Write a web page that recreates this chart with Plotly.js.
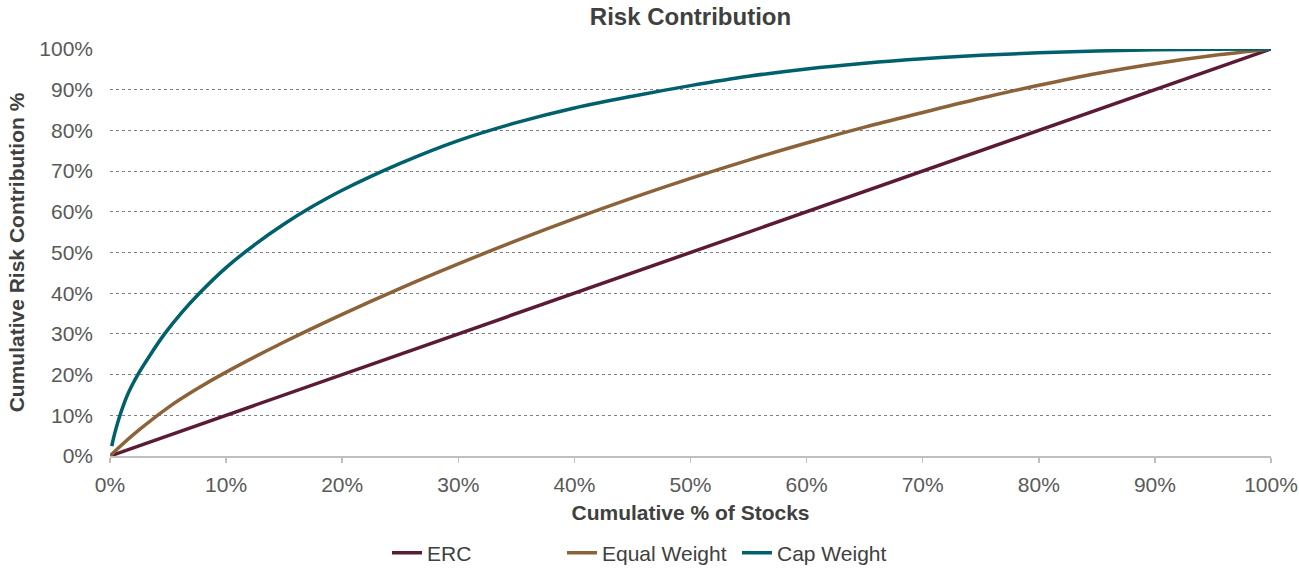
<!DOCTYPE html>
<html>
<head>
<meta charset="utf-8">
<script src="https://cdn.plot.ly/plotly-3.0.1.min.js"></script>
<style>html,body{margin:0;padding:0;background:#fff;}#chart{width:1299px;height:569px;}</style>
</head>
<body>
<div id="chart"></div>
<script>
// Cumulative % of stocks (x) and cumulative risk contribution % (y)
const ercX = [0, 10, 20, 30, 40, 50, 60, 70, 80, 90, 100];
const ercY = [0, 10, 20, 30, 40, 50, 60, 70, 80, 90, 100];

const eqX = [0, 1, 2.5, 5, 7.5, 10, 15, 20, 25, 30, 35, 40, 45, 50, 55, 60, 65, 70, 75, 80, 85, 90, 95, 100];
const eqY = [0, 2.7, 6.4, 11.9, 16.5, 20.6, 28, 34.8, 41.2, 47.2, 52.9, 58.3, 63.4, 68.2, 72.7, 76.9, 80.8, 84.4, 87.9, 91.1, 94, 96.4, 98.4, 100];

const capX = [0.15, 0.4, 0.86, 1.5, 2.4, 3.5, 4.7, 6.1, 7.7, 10, 12.5, 15, 17.5, 20, 25, 30, 35, 40, 45, 50, 55, 60, 65, 70, 75, 80, 85, 90, 95, 100];
const capY = [2.4, 5.5, 10, 15, 20, 25, 30, 35, 40, 46.3, 52, 57, 61.4, 65.3, 71.9, 77.5, 81.9, 85.5, 88.4, 91, 93.3, 95.1, 96.5, 97.6, 98.45, 99.05, 99.5, 99.8, 99.95, 100];

const seriesNames = ['ERC', 'Equal Weight', 'Cap Weight'];
const seriesColors = ['#5b1a35', '#8c6239', '#00606b'];

const tickVals = [0, 10, 20, 30, 40, 50, 60, 70, 80, 90, 100];
const tickText = ['0%', '10%', '20%', '30%', '40%', '50%', '60%', '70%', '80%', '90%', '100%'];

const font = 'Liberation Sans, Arial, sans-serif';

const traces = [
  {x: ercX, y: ercY, name: seriesNames[0], mode: 'lines', line: {color: seriesColors[0], width: 3.5, shape: 'linear'}},
  {x: eqX, y: eqY, name: seriesNames[1], mode: 'lines', line: {color: seriesColors[1], width: 3.5, shape: 'spline', smoothing: 1}},
  {x: capX, y: capY, name: seriesNames[2], mode: 'lines', line: {color: seriesColors[2], width: 3.5, shape: 'spline', smoothing: 1}}
];

const layout = {
  width: 1299, height: 569,
  margin: {l: 110, r: 28, t: 49, b: 113},
  paper_bgcolor: '#fff', plot_bgcolor: '#fff',
  font: {family: font, size: 21, color: '#595959'},
  title: {text: '<b>Risk Contribution</b>', x: 0.5, xanchor: 'center', xref: 'paper', y: 0.97, yanchor: 'middle', font: {family: font, size: 24, color: '#404040'}},
  xaxis: {
    range: [0, 100], tickmode: 'array', tickvals: tickVals, ticktext: tickText,
    showgrid: false, zeroline: false,
    showline: true, linecolor: '#bfbfbf', linewidth: 1.5,
    ticks: 'outside', ticklen: 5, tickcolor: '#bfbfbf', tickwidth: 1.5,
    ticklabelstandoff: 4,
    tickfont: {size: 21, color: '#595959'},
    automargin: false,
    title: {text: '<b>Cumulative % of Stocks</b>', font: {size: 21, color: '#404040'}, standoff: 10}
  },
  yaxis: {
    range: [0, 100], tickmode: 'array', tickvals: tickVals, ticktext: tickText,
    showgrid: true, gridcolor: '#7f7f7f', gridwidth: 1, griddash: 'dot',
    zeroline: false, showline: false, ticks: '',
    ticklabelstandoff: 16,
    tickfont: {size: 21, color: '#595959'},
    automargin: false,
    title: {text: '<b>Cumulative Risk Contribution %</b>', font: {size: 21, color: '#404040'}, standoff: 8}
  },
  showlegend: true,
  legend: {orientation: 'h', xref: 'container', x: 0.5, xanchor: 'center', yref: 'container', y: 0.028, yanchor: 'middle', font: {size: 21, color: '#404040'}, traceorder: 'normal', entrywidthmode: 'pixels', entrywidth: 130}
};

Plotly.newPlot('chart', traces, layout, {staticPlot: true, displayModeBar: false});
</script>
</body>
</html>
